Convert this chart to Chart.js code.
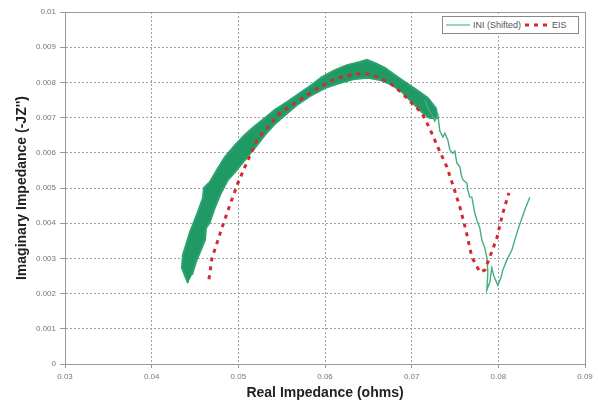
<!DOCTYPE html>
<html>
<head>
<meta charset="utf-8">
<script src="https://cdn.jsdelivr.net/npm/chart.js@4"></script>
<style>
  body { margin: 0; background: #fff; }
  #wrap { position: relative; width: 598px; height: 402px; }
  #legend {
    position: absolute; left: 442px; top: 16px; width: 135px; height: 16px;
    border: 1px solid #888; background: #fff;
    font: 9px "Liberation Sans", Arial, sans-serif; color: #555;
    display: flex; align-items: center; white-space: nowrap;
  }
  #legend svg { display: block; margin: 0 2px 0 2px; }
</style>
</head>
<body>
<div id="wrap">
  <canvas id="chart" width="598" height="402"></canvas>
  <div id="legend">
    <svg width="26" height="6"><line x1="1" y1="3" x2="25" y2="3" stroke="#3aa878" stroke-width="1"/></svg>
    <span>INI (Shifted)</span>
    <svg width="26" height="6" style="margin-left:3px"><line x1="1" y1="3" x2="25" y2="3" stroke="#d42a2e" stroke-width="3" stroke-dasharray="4,5"/></svg>
    <span>EIS</span>
  </div>
</div>
<script>
// 축 눈금
const xTicks = [0.03, 0.04, 0.05, 0.06, 0.07, 0.08, 0.09];
const xTickLabels = ['0.03', '0.04', '0.05', '0.06', '0.07', '0.08', '0.09'];
const yTicks = [0, 0.001, 0.002, 0.003, 0.004, 0.005, 0.006, 0.007, 0.008, 0.009, 0.01];
const yTickLabels = ['0', '0.001', '0.002', '0.003', '0.004', '0.005', '0.006', '0.007', '0.008', '0.009', '0.01'];

// EIS (red dashed)
const eisReal = [0.04661, 0.04696, 0.04765, 0.04822, 0.04903, 0.04995, 0.05076, 0.05215, 0.05341, 0.05480,
  0.05711, 0.05941, 0.06114, 0.06345, 0.06495, 0.06633, 0.06749, 0.06887, 0.07002, 0.07118,
  0.07210, 0.07302, 0.07406, 0.07475, 0.07556, 0.07625, 0.07694, 0.07787, 0.07844, 0.07902,
  0.07983, 0.08052, 0.08121];
const eisImag = [0.00241, 0.00301, 0.00352, 0.00395, 0.00452, 0.00514, 0.00560, 0.00636, 0.00673, 0.00713,
  0.00750, 0.00787, 0.00810, 0.00824, 0.00824, 0.00813, 0.00798, 0.00770, 0.00741, 0.00713,
  0.00668, 0.00616, 0.00560, 0.00509, 0.00446, 0.00381, 0.00304, 0.00261, 0.00267, 0.00304,
  0.00358, 0.00429, 0.00486];

// INI (Shifted) - dense noisy band, outline (up the left edge, back down the right edge)
const iniBandReal = [0.04419, 0.04349, 0.04361, 0.04396, 0.04442, 0.04488, 0.04534, 0.04592, 0.04603, 0.04672,
  0.04753, 0.04845, 0.04961, 0.05076, 0.05191, 0.05307, 0.05422, 0.05561, 0.05711, 0.05849,
  0.05964, 0.06114, 0.06253, 0.06402, 0.06483, 0.06575, 0.06691, 0.06806, 0.06922, 0.07060,
  0.07187, 0.07279,
  0.07302, 0.07210, 0.07129, 0.07002, 0.06887, 0.06772, 0.06633, 0.06495, 0.06345, 0.06172,
  0.05999, 0.05826, 0.05676, 0.05537, 0.05422, 0.05307, 0.05191, 0.05076, 0.04961, 0.04880,
  0.04788, 0.04719, 0.04672, 0.04626, 0.04615, 0.04557, 0.04511, 0.04465];
const iniBandImag = [0.00230, 0.00273, 0.00310, 0.00338, 0.00375, 0.00403, 0.00432, 0.00472, 0.00500, 0.00517,
  0.00551, 0.00588, 0.00622, 0.00651, 0.00676, 0.00699, 0.00722, 0.00744, 0.00770, 0.00793,
  0.00815, 0.00835, 0.00849, 0.00858, 0.00864, 0.00855, 0.00841, 0.00821, 0.00801, 0.00778,
  0.00756, 0.00727,
  0.00699, 0.00699, 0.00713, 0.00744, 0.00773, 0.00793, 0.00807, 0.00813, 0.00810, 0.00798,
  0.00784, 0.00761, 0.00736, 0.00707, 0.00682, 0.00651, 0.00614, 0.00580, 0.00545, 0.00523,
  0.00480, 0.00438, 0.00403, 0.00386, 0.00352, 0.00318, 0.00290, 0.00253];

// INI (Shifted) - noisy tail on the right
const iniTailReal = [0.07152, 0.07210, 0.07244, 0.07267, 0.07302, 0.07325, 0.07360, 0.07383, 0.07418, 0.07441,
  0.07475, 0.07498, 0.07521, 0.07556, 0.07573, 0.07591, 0.07637, 0.07648,
  0.07671, 0.07694, 0.07729, 0.07752, 0.07787, 0.07810, 0.07844, 0.07867, 0.07879, 0.07867,
  0.07902, 0.07925, 0.07948, 0.07994, 0.08029, 0.08052, 0.08098, 0.08156, 0.08225, 0.08306,
  0.08363];
const iniTailImag = [0.00750, 0.00716, 0.00702, 0.00690, 0.00707, 0.00662, 0.00645, 0.00656, 0.00636, 0.00608,
  0.00599, 0.00605, 0.00571, 0.00560, 0.00537, 0.00523, 0.00514, 0.00494,
  0.00474, 0.00474, 0.00429, 0.00409, 0.00386, 0.00352, 0.00330, 0.00304, 0.00259, 0.00210,
  0.00233, 0.00273, 0.00250, 0.00224, 0.00244, 0.00267, 0.00295, 0.00324, 0.00381, 0.00438,
  0.00474];

const toPoints = (xs, ys) => xs.map((x, i) => ({ x: x, y: ys[i] }));

// 위쪽/오른쪽 테두리
const frameBox = {
  id: 'frameBox',
  beforeDatasetsDraw(chart) {
    const { ctx, chartArea: a } = chart;
    ctx.save();
    ctx.strokeStyle = '#999';
    ctx.lineWidth = 1;
    ctx.beginPath();
    ctx.moveTo(a.left, a.top + 0.5);
    ctx.lineTo(a.right + 0.5, a.top + 0.5);
    ctx.lineTo(a.right + 0.5, a.bottom);
    ctx.stroke();
    ctx.restore();
  }
};

const tickFont = { family: '"Liberation Sans", Arial, sans-serif', size: 8 };
const titleFont = { family: '"Liberation Sans", Arial, sans-serif', size: 14, weight: 'bold' };

new Chart(document.getElementById('chart').getContext('2d'), {
  type: 'line',
  data: {
    datasets: [
      {
        label: 'EIS',
        data: toPoints(eisReal, eisImag),
        borderColor: '#d42a2e',
        borderWidth: 3,
        borderDash: [4, 5],
        pointRadius: 0,
        fill: false,
        tension: 0
      },
      {
        label: 'INI (Shifted) tail',
        data: toPoints(iniTailReal, iniTailImag),
        borderColor: '#45ad80',
        borderWidth: 1.4,
        pointRadius: 0,
        fill: false,
        tension: 0
      },
      {
        label: 'INI (Shifted)',
        data: toPoints(iniBandReal, iniBandImag),
        borderColor: '#2ba370',
        backgroundColor: '#1f9a65',
        borderWidth: 2,
        pointRadius: 0,
        fill: 'shape',
        tension: 0
      }
    ]
  },
  options: {
    responsive: false,
    animation: false,
    layout: { padding: { left: 0, right: 13, top: 12, bottom: 0 } },
    plugins: {
      legend: { display: false },
      tooltip: { enabled: false }
    },
    scales: {
      x: {
        type: 'linear',
        min: 0.03,
        max: 0.09,
        afterBuildTicks: s => { s.ticks = xTicks.map(v => ({ value: v })); },
        afterFit: s => { s.height = 38; },
        ticks: {
          callback: (v, i) => xTickLabels[i],
          font: tickFont, color: '#777', padding: 4, maxRotation: 0, autoSkip: false
        },
        grid: { color: '#a0a0a0', tickLength: 4, tickColor: '#999' },
        border: { color: '#999', dash: [2, 2] },
        title: {
          display: true, text: 'Real Impedance (ohms)',
          font: titleFont, color: '#222', padding: { top: 0, bottom: 0 }
        }
      },
      y: {
        type: 'linear',
        min: 0,
        max: 0.01,
        afterBuildTicks: s => { s.ticks = yTicks.map(v => ({ value: v })); },
        afterFit: s => { s.width = 65; },
        ticks: {
          callback: (v, i) => yTickLabels[i],
          font: tickFont, color: '#777', padding: 4, autoSkip: false
        },
        grid: { color: '#a0a0a0', tickLength: 5, tickColor: '#999' },
        border: { color: '#999', dash: [2, 2] },
        title: {
          display: true, text: "Imaginary Impedance (-JZ'')",
          font: titleFont, color: '#222', padding: { top: 14, bottom: 0 }
        }
      }
    }
  },
  plugins: [frameBox]
});
</script>
</body>
</html>
